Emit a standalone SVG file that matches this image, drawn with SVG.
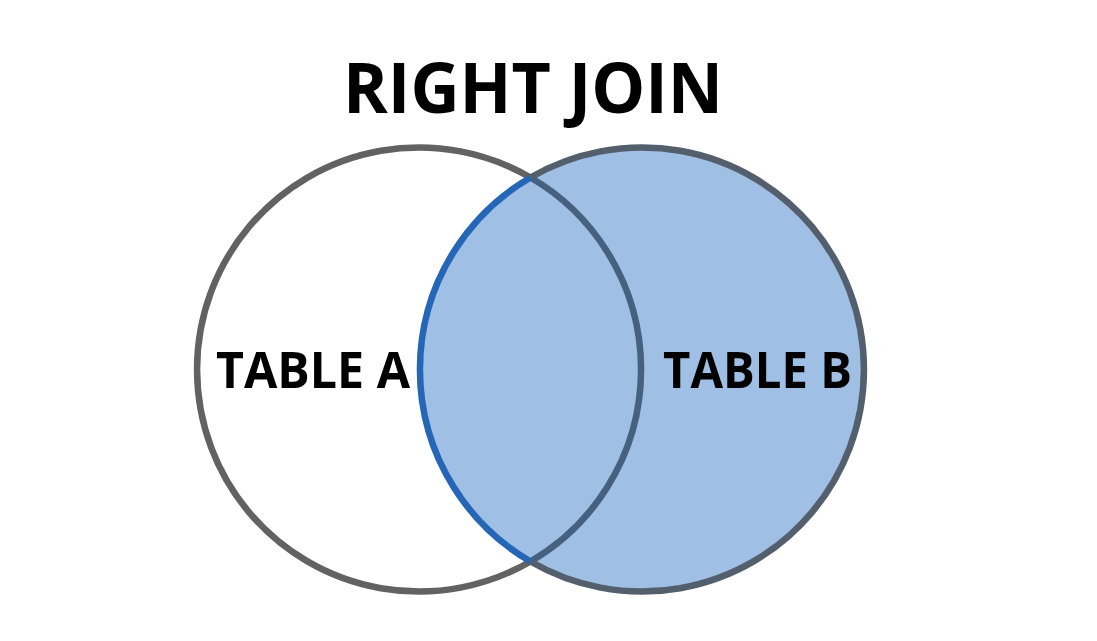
<svg xmlns="http://www.w3.org/2000/svg" width="1097" height="641" viewBox="0 0 1097 641">
<style>
.t{font-family:"Open Sans","Noto Sans","Liberation Sans",sans-serif;font-weight:bold;fill:#000}
.arc{fill:none;stroke-width:6.5}
</style>
<rect width="1097" height="641" fill="#ffffff"/>
<g id="tableB">
<circle cx="642.5" cy="369.5" r="222" fill="#a0bfe4"/>
</g>
<g id="connectors">
<path class="arc" stroke="#626262" d="M530.5,177.5 A222,222 0 1 0 530.5,561.5"/>
<path class="arc" stroke="#46607f" d="M530.5,177.5 A222,222 0 0 1 530.5,561.5"/>
<path class="arc" stroke="#2566b6" d="M530.5,177.5 A222,222 0 0 0 530.5,561.5"/>
<path class="arc" stroke="#545f6d" d="M530.5,177.5 A222,222 0 1 1 530.5,561.5"/>
</g>
<g id="title">
<text class="t" x="343" y="113" font-size="70" textLength="380" lengthAdjust="spacingAndGlyphs">RIGHT JOIN</text>
</g>
<g id="labelA">
<text class="t" x="216" y="388" font-size="51" textLength="194" lengthAdjust="spacingAndGlyphs">TABLE A</text>
</g>
<g id="labelB">
<text class="t" x="663" y="388" font-size="51" textLength="189" lengthAdjust="spacingAndGlyphs">TABLE B</text>
</g>
</svg>
